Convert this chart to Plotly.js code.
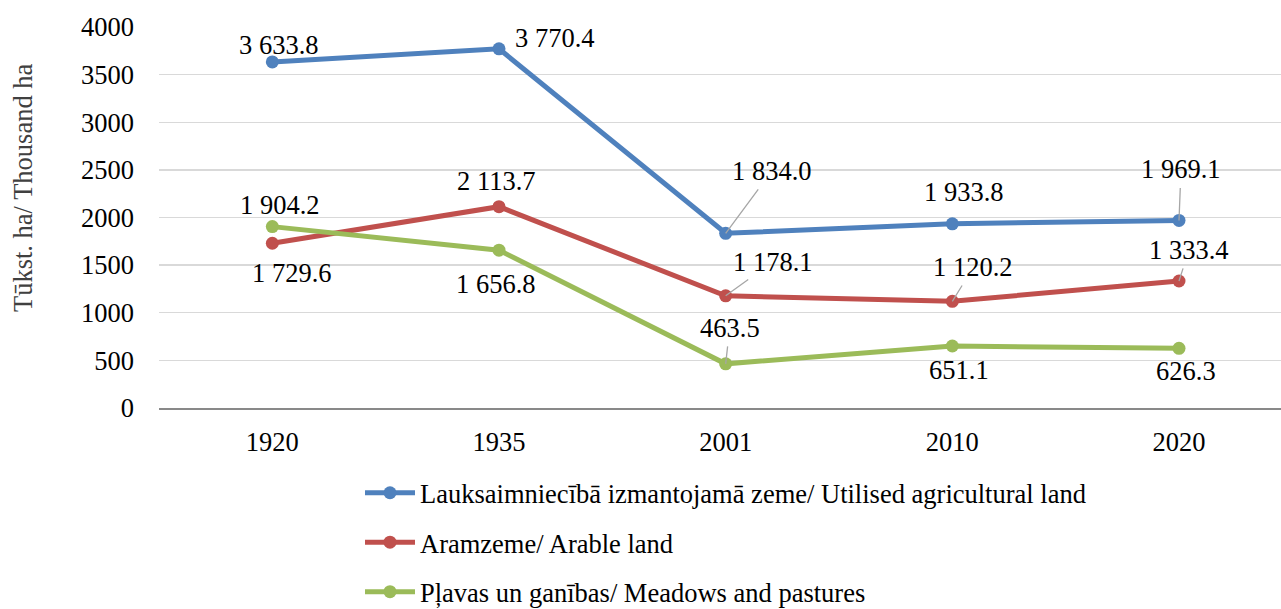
<!DOCTYPE html>
<html>
<head>
<meta charset="utf-8">
<script src="https://cdn.plot.ly/plotly-3.0.1.min.js"></script>
<style>html,body{margin:0;padding:0;background:#fff;}#chart{width:1281px;height:609px;}</style>
</head>
<body>
<div id="chart"></div>
<script>
// ---- data ----
const years = ['1920', '1935', '2001', '2010', '2020'];
const seriesNames = [
  'Lauksaimniecībā izmantojamā zeme/ Utilised agricultural land',
  'Aramzeme/ Arable land',
  'Pļavas un ganības/ Meadows and pastures'
];
const utilisedLand = [3633.8, 3770.4, 1834.0, 1933.8, 1969.1];
const arableLand = [1729.6, 2113.7, 1178.1, 1120.2, 1333.4];
const meadowsPastures = [1904.2, 1656.8, 463.5, 651.1, 626.3];
const yTickVals = [0, 500, 1000, 1500, 2000, 2500, 3000, 3500, 4000];
const yTitle = 'Tūkst. ha/ Thousand ha';

// ---- styles / label placement (pixel offsets from each point: dx, dy, leader line) ----
const colors = ['#4F81BD', '#C0504D', '#9BBB59'];
const labelOffsets = [
  [[7, -17, false], [56, -11, false], [46, -62, true], [12, -32, false], [2, -51, true]],
  [[20, 30, false], [-3, -26, false], [47, -34, true], [21, -34, true], [10, -31, true]],
  [[8, -22, false], [-3, 34, false], [4, -36, true], [7, 24, false], [7, 23, false]]
];

const FONT = 'Liberation Serif';
const FS = 26.5;

function fmt(v) {
  const s = v.toFixed(1);
  const [i, d] = s.split('.');
  return i.replace(/\B(?=(\d{3})+(?!\d))/g, ' ') + '.' + d;
}

const allSeries = [utilisedLand, arableLand, meadowsPastures];
const traces = allSeries.map((vals, k) => ({
  type: 'scatter',
  mode: 'lines+markers',
  x: years,
  y: vals,
  name: seriesNames[k],
  legendgroup: 'g' + k,
  line: {color: colors[k], width: 5},
  marker: {color: colors[k], size: 13},
  hoverinfo: 'skip'
}));

const annotations = [];
allSeries.forEach((vals, k) => {
  vals.forEach((v, i) => {
    const [dx, dy, arrow] = labelOffsets[k][i];
    const a = {
      x: i, y: v, xref: 'x', yref: 'y',
      text: fmt(v),
      font: {family: FONT, size: FS, color: '#000'}
    };
    if (arrow) {
      Object.assign(a, {showarrow: true, ax: dx, ay: dy, arrowhead: 0,
        arrowwidth: 1.3, arrowcolor: '#a6a6a6', standoff: 0, startstandoff: 2});
    } else {
      Object.assign(a, {showarrow: false, xshift: dx, yshift: -dy});
    }
    annotations.push(a);
  });
});

annotations.push({
  text: yTitle, textangle: -90, showarrow: false,
  xref: 'paper', yref: 'paper',
  x: (23 - 159) / 1122, y: (408 - 188) / 381,
  xanchor: 'center', yanchor: 'middle',
  font: {family: FONT, size: 26.5, color: '#404040'}
});

const layout = {
  width: 1281, height: 609,
  margin: {l: 159, r: 0, t: 27, b: 201, autoexpand: false},
  paper_bgcolor: '#fff', plot_bgcolor: '#fff',
  font: {family: FONT, size: FS, color: '#000'},
  showlegend: true,
  legend: {
    x: (360 - 159) / 1122, y: (408 - 469) / 381,
    xanchor: 'left', yanchor: 'top',
    traceorder: 'grouped', tracegroupgap: 12,
    font: {family: FONT, size: FS, color: '#000'},
    bgcolor: 'rgba(0,0,0,0)', itemwidth: 50
  },
  xaxis: {
    type: 'category', range: [-0.5, 4.45],
    showgrid: false, zeroline: false,
    showline: true, linecolor: '#898989', linewidth: 1.8,
    ticks: '', tickfont: {family: FONT, size: FS, color: '#000'},
    ticklabelstandoff: 9
  },
  yaxis: {
    range: [0, 4000], tickvals: yTickVals,
    showgrid: true, gridcolor: '#d9d9d9', gridwidth: 1.3,
    zeroline: false, showline: false, ticks: '',
    tickfont: {family: FONT, size: FS, color: '#000'},
    ticklabelstandoff: 24
  },
  annotations: annotations
};

Plotly.newPlot('chart', traces, layout, {staticPlot: true, displayModeBar: false});
</script>
</body>
</html>
